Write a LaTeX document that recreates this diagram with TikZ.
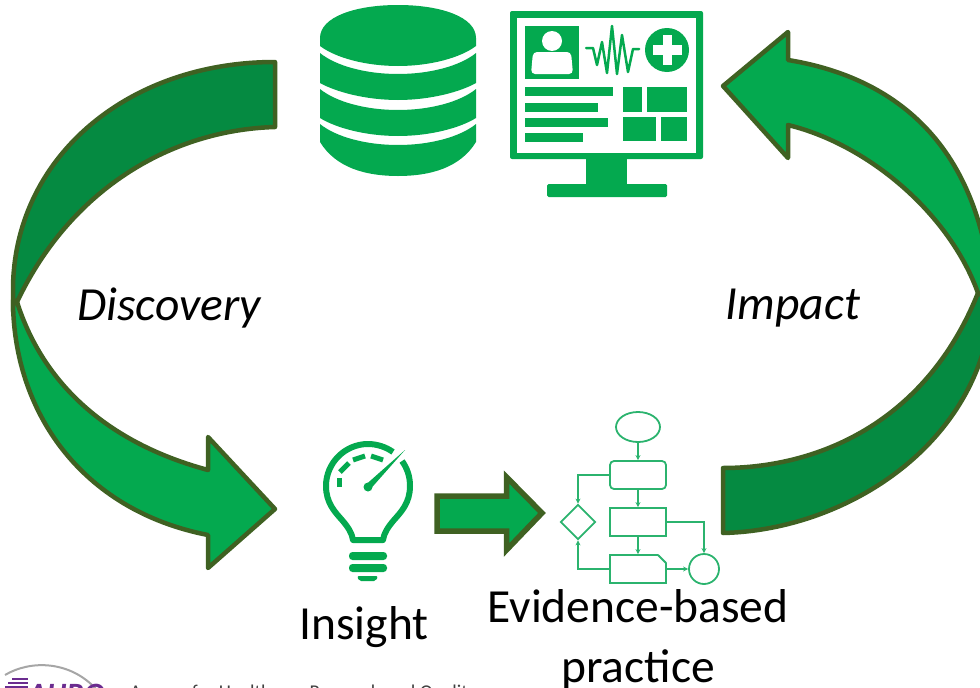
\documentclass[tikz,border=0pt]{standalone}
\usepackage{fontspec}
\setmainfont{Carlito}
\usetikzlibrary{shapes.geometric,arrows.meta}

\definecolor{lightgreen}{HTML}{04A94F}
\definecolor{darkgreen}{HTML}{058A41}
\definecolor{edgegreen}{HTML}{3F6122}
\definecolor{flowgreen}{HTML}{2BB36E}
\definecolor{logopurple}{HTML}{6B2C8F}

\tikzset{
	bigtext/.style={inner sep=0pt,align=center,font=\fontsize{47.5}{60}\selectfont},
	smalltext/.style={inner sep=0pt,anchor=north west,text=black!75,font=\fontsize{19.5}{20}\selectfont},
	bigarrow/.style={draw=edgegreen,line width=4.5pt,line join=round},
	icon/.style={draw=none,fill=lightgreen},
	hole/.style={draw=none,fill=white},
	flowbox/.style={draw=flowgreen,line width=1.8pt,inner sep=0pt,minimum width=56pt,minimum height=28pt},
	flowline/.style={draw=flowgreen,line width=1.8pt,-{Stealth[length=5pt,width=5pt]}}
}

\begin{document}
\begin{tikzpicture}[x=1pt,y=-1pt]

	\clip (0,0) rectangle (980,688);

	% big arrows, left
	\draw[bigarrow,fill=darkgreen] (275,62) .. controls (125,62) and (13,160) .. (13,290) -- (13,312) -- (17,302) .. controls (70,190) and (170,130) .. (275,127) -- cycle;
	\draw[bigarrow,fill=lightgreen] (17,302) .. controls (45,390) and (115,445) .. (208,470) -- (208,437) -- (275,509) -- (208,568) -- (208,535) .. controls (80,510) and (13,410) .. (13,300) -- cycle;

	% big arrows, right
	\draw[bigarrow,fill=darkgreen] (723,468) .. controls (815,468) and (925,425) .. (978,293) -- (992,300) .. controls (985,440) and (850,530) .. (723,533) -- cycle;
	\draw[bigarrow,fill=lightgreen] (723,86) -- (788,32) -- (788,60) .. controls (880,75) and (978,130) .. (992,295) -- (978,293) .. controls (950,215) and (870,145) .. (788,125) -- (788,158) -- cycle;

	% small arrow
	\draw[draw=edgegreen,line width=5.5pt,fill=lightgreen] (437,496) -- (506.5,496) -- (506.5,477) -- (542,513) -- (506.5,550) -- (506.5,531) -- (437,531) -- cycle;

	% database
	\draw[icon] (320,38) .. controls (320,17) and (355,5) .. (398,5) .. controls (441,5) and (476,17) .. (476,38) -- (476,46) .. controls (460,58) and (430,66) .. (398,66) .. controls (366,66) and (336,58) .. (320,46) -- cycle;
	\foreach \ya/\yb/\yc/\yd in {53/74/83/100, 89/110/118/136, 124/145/142/176}{
		\draw[icon] (320,\ya) .. controls (336,\ya+13) and (366,\yb) .. (398,\yb) .. controls (430,\yb) and (460,\ya+13) .. (476,\ya) -- (476,\yc) .. controls (460,\yd-8) and (430,\yd) .. (398,\yd) .. controls (366,\yd) and (336,\yd-8) .. (320,\yc) -- cycle;
	}

	% monitor
	\draw[icon,rounded corners=2pt] (510,11) rectangle (703,159);
	\draw[hole] (517,18) rectangle (696,153);
	\draw[icon] (586,158) rectangle (627,185);
	\draw[icon,rounded corners=1.5pt] (547,184) rectangle (667,197);
	\draw[icon] (525,26) rectangle (579,79);
	\draw[hole] (552,41) circle[radius=10];
	\draw[hole,rounded corners=4pt] (531,74) -- (533,52) -- (571,52) -- (573,74) -- cycle;
	\draw[draw=lightgreen,line width=2.5pt,line join=round,line cap=round] (586,48) -- (593,48) -- (597,65) -- (602,42) -- (607,73) -- (612,26) -- (617,74) -- (622,35) -- (628,72) -- (633,49) -- (639,49);
	\draw[icon] (667,50) circle[radius=22];
	\draw[hole] (653,45) rectangle (682,55);
	\draw[hole] (662.5,35) rectangle (672,65);
	\foreach \ya/\xa in {87/613, 103/598, 118/608, 133/583}{
		\draw[icon] (525,\ya) rectangle (\xa,\ya+8.5);
	}
	\draw[icon] (623,87) rectangle (642,112);
	\draw[icon] (647,87) rectangle (687,112);
	\draw[icon] (623,117) rectangle (656,141);
	\draw[icon] (661,117) rectangle (687,141);

	% bulb
	\draw[draw=lightgreen,line width=6pt,line join=round] (393,452) .. controls (386,447) and (377,444) .. (368,444) .. controls (345,444) and (326,463) .. (326,486) .. controls (326,503) and (335,512) .. (342,520) .. controls (348,527) and (352,533) .. (353,540) -- (383,540) .. controls (384,533) and (388,527) .. (394,520) .. controls (401,512) and (410,503) .. (410,486) .. controls (410,476) and (407,468) .. (402,461);
	\draw[draw=lightgreen,line width=5pt] (339,487) -- (339,478);
	\draw[draw=lightgreen,line width=5pt] (340,472) -- (349,463);
	\draw[draw=lightgreen,line width=5pt] (353,460) -- (365,456);
	\draw[draw=lightgreen,line width=5pt] (371,456) -- (383,460);
	\draw[icon] (405,450) -- (370.5,489) -- (366,484.5) -- cycle;
	\draw[icon] (368,487) circle[radius=4.5];
	\draw[icon,rounded corners=3.5pt] (349,552) rectangle (387,560);
	\draw[icon,rounded corners=3.5pt] (349,564) rectangle (387,572);
	\draw[icon,rounded corners=2pt] (357,576) -- (378,576) -- (376,581) -- (359,581) -- cycle;

	% flowchart
	\node[ellipse,draw=flowgreen,line width=1.8pt,inner sep=0pt,minimum width=44pt,minimum height=30pt] (start) at (638,427){};
	\node[flowbox,rounded corners=4pt] (boxa) at (638,475){};
	\node[flowbox] (boxb) at (638,522){};
	\node[flowbox] (boxc) at (638,569){};
	\node[diamond,draw=flowgreen,line width=1.8pt,inner sep=0pt,minimum width=35pt,minimum height=35pt] (choice) at (578,522){};
	\node[circle,draw=flowgreen,line width=1.8pt,inner sep=0pt,minimum size=30pt] (stop) at (704,569){};

	\draw[hole] (657,553) -- (668,553) -- (668,564) -- cycle;
	\draw[draw=flowgreen,line width=1.8pt] (658,555) -- (666,563);

	\draw[flowline] (start) -- (boxa);
	\draw[flowline] (boxa) -- (boxb);
	\draw[flowline] (boxb) -- (boxc);
	\draw[flowline] (boxa.west) -| (choice.north);
	\draw[flowline] (boxc.west) -| (choice.south);
	\draw[flowline] (boxb.east) -| (stop.north);
	\draw[flowline] (boxc.east) -- (stop.west);

	% labels
	\node[bigtext] (discovery) at (169,308){\itshape Discovery};
	\node[bigtext] (impact) at (793,308){\itshape Impact};
	\node[bigtext] (insight) at (364,627){Insight};
	\node[bigtext] (practice) at (638,639.5){Evidence-based\\practice};

	% logo at the page edge
	\draw[draw=black!35,line width=2pt] (5,675) .. controls (30,660) and (70,660) .. (97,690);
	\foreach \ya/\xa in {679/12, 683/8, 687/5}{
		\draw[draw=logopurple,line width=2.5pt] (\xa,\ya) -- (28,\ya);
	}
	\node[inner sep=0pt,anchor=north west,text=logopurple,font=\fontsize{31}{33}\selectfont\bfseries\itshape] (logo) at (28,684){AHRQ};
	\node[smalltext] (agency) at (130,685){Agency for Healthcare Research and Quality};

\end{tikzpicture}
\end{document}
